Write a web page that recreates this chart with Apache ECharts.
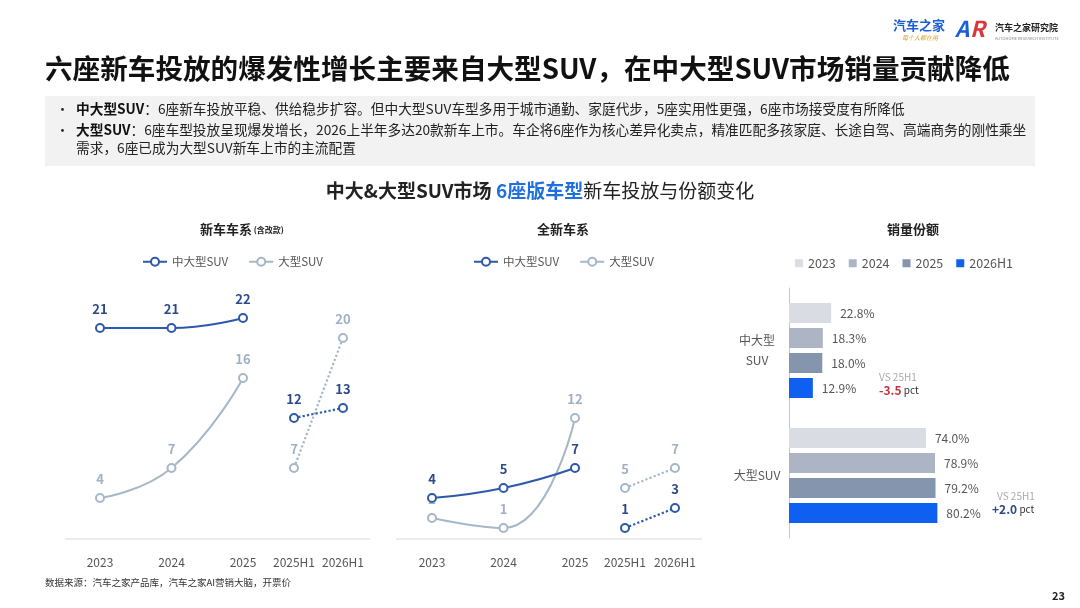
<!DOCTYPE html>
<html>
<head>
<meta charset="utf-8">
<title>六座新车投放</title>
<script src="https://cdn.jsdelivr.net/npm/echarts@6/dist/echarts.min.js"></script>
<style>
html,body{margin:0;padding:0;background:#fff;}
#main{width:1080px;height:608px;}
</style>
</head>
<body>
<div id="main"></div>
<script>
// 数据
var years = ['2023', '2024', '2025'];
var halves = ['2025H1', '2026H1'];

// 新车车系（含改款）
var newMid = [21, 21, 22];
var newLarge = [4, 7, 16];
var newMidH1 = [12, 13];
var newLargeH1 = [7, 20];

// 全新车系
var allMid = [4, 5, 7];
var allLarge = [2, 1, 12];
var allMidH1 = [1, 3];
var allLargeH1 = [5, 7];

// 销量份额
var shareCats = ['中大型\nSUV', '大型SUV'];
var shareNames = ['2023', '2024', '2025', '2026H1'];
var share2023 = [22.8, 74.0];
var share2024 = [18.3, 78.9];
var share2025 = [18.0, 79.2];
var share2026H1 = [12.9, 80.2];
var shareColors = ['#d9dce3', '#adb4c4', '#8595ad', '#0f5ff0'];

var FONT = '"Noto Sans CJK SC", "Noto Sans", sans-serif';
var MID = '#2d5aa8', MID_LBL = '#2b4a8c';
var LRG = '#a6b7c8', LRG_LBL = '#9fb1c4';

function lineSeries(name, data, idx, color, lblColor, dotted) {
	return {
		name: name,
		type: 'line',
		xAxisIndex: idx,
		yAxisIndex: idx,
		data: data,
		smooth: dotted ? false : 0.5,
		symbol: 'emptyCircle',
		symbolSize: 8,
		lineStyle: {color: color, width: dotted ? 2.2 : 2, type: dotted ? 'dotted' : 'solid'},
		itemStyle: {color: color, borderWidth: 2},
		label: {show: true, position: 'top', distance: 7, color: lblColor, fontWeight: 'bold', fontSize: 13},
		z: name == '中大型SUV' ? 3 : 2
	};
}

function catAxis(idx, cats) {
	return {
		type: 'category', gridIndex: idx, data: cats, boundaryGap: false,
		axisLine: {show: false}, axisTick: {show: false},
		axisLabel: {color: '#555', fontSize: 12, margin: 18, interval: 0, hideOverlap: false}
	};
}
function valAxis(idx) {
	return {type: 'value', gridIndex: idx, min: 0, max: 25, show: false, splitLine: {show: false}};
}

function barSeries(i, data) {
	return {
		name: shareNames[i],
		type: 'bar',
		xAxisIndex: 4,
		yAxisIndex: 4,
		data: data,
		barWidth: 20,
		barGap: '25%',
		itemStyle: {color: shareColors[i]},
		label: {
			show: true, position: 'right', distance: 9, color: '#555', fontSize: 12,
			formatter: function (p) { return p.value.toFixed(1) + '%'; }
		}
	};
}

var chart = echarts.init(document.getElementById('main'));

var option = {
	backgroundColor: '#fff',
	textStyle: {fontFamily: FONT},
	animation: false,
	grid: [
		{left: 100, width: 143, top: 288, height: 250},
		{left: 294, width: 49, top: 288, height: 250},
		{left: 432, width: 143, top: 288, height: 250},
		{left: 625, width: 50, top: 288, height: 250},
		{left: 789, width: 185, top: 288, height: 250}
	],
	xAxis: [
		catAxis(0, years), catAxis(1, halves), catAxis(2, years), catAxis(3, halves),
		{type: 'value', gridIndex: 4, min: 0, max: 100, show: false}
	],
	yAxis: [
		valAxis(0), valAxis(1), valAxis(2), valAxis(3),
		{
			type: 'category', gridIndex: 4, data: shareCats, inverse: true,
			axisLine: {show: true, lineStyle: {color: '#c8c8c8'}}, axisTick: {show: false},
			axisLabel: {color: '#555', fontSize: 12, margin: 32, align: 'center', lineHeight: 20}
		}
	],
	legend: [
		{
			data: ['中大型SUV', '大型SUV'], left: 137, top: 251, itemGap: 20,
			itemWidth: 24, itemHeight: 10, textStyle: {color: '#555', fontSize: 11.5}
		},
		{
			data: ['中大型SUV', '大型SUV'], left: 468, top: 251, itemGap: 20,
			itemWidth: 24, itemHeight: 10, textStyle: {color: '#555', fontSize: 11.5}
		},
		{
			data: shareNames, left: 790, top: 252, itemGap: 13, icon: 'rect',
			itemWidth: 8, itemHeight: 8, textStyle: {color: '#555', fontSize: 12.5}
		}
	],
	series: [
		lineSeries('中大型SUV', newMid, 0, MID, MID_LBL, false),
		lineSeries('大型SUV', newLarge, 0, LRG, LRG_LBL, false),
		lineSeries('中大型SUV', newMidH1, 1, MID, MID_LBL, true),
		lineSeries('大型SUV', newLargeH1, 1, LRG, LRG_LBL, true),
		lineSeries('中大型SUV', allMid, 2, MID, MID_LBL, false),
		lineSeries('大型SUV', allLarge, 2, LRG, LRG_LBL, false),
		lineSeries('中大型SUV', allMidH1, 3, MID, MID_LBL, true),
		lineSeries('大型SUV', allLargeH1, 3, LRG, LRG_LBL, true),
		barSeries(0, share2023),
		barSeries(1, share2024),
		barSeries(2, share2025),
		barSeries(3, share2026H1)
	],
	graphic: [
		// 标题
		{type: 'text', left: 45, top: 55, style: {text: '六座新车投放的爆发性增长主要来自大型SUV，在中大型SUV市场销量贡献降低', font: 'bold 27.6px ' + FONT, fill: '#111'}},
		// logo
		{type: 'text', left: 893, top: 19, style: {text: '汽车之家', font: 'bold 13px ' + FONT, fill: '#1b5fd8'}},
		{type: 'text', left: 902, top: 35, style: {text: '每个人都在用', font: 'italic 6px ' + FONT, fill: '#d9a531'}},
		{type: 'text', left: 955, top: 18, style: {text: 'A', font: 'italic bold 22px ' + FONT, fill: '#1b5fd8'}},
		{type: 'text', left: 970, top: 18, style: {text: 'R', font: 'italic bold 22px ' + FONT, fill: '#d9363e'}},
		{type: 'text', left: 995, top: 23, style: {text: '汽车之家研究院', font: 'bold 9px ' + FONT, fill: '#222'}},
		{type: 'text', left: 995, top: 36, style: {text: 'AUTOHOME RESEARCH INSTITUTE', font: '4px ' + FONT, fill: '#888'}},
		// 灰色说明框
		{type: 'rect', shape: {x: 45, y: 96, width: 990, height: 70}, style: {fill: '#f2f2f2'}},
		{type: 'text', left: 56, top: 103, style: {text: '•', font: '13px ' + FONT, fill: '#222'}},
		{type: 'text', left: 56, top: 124, style: {text: '•', font: '13px ' + FONT, fill: '#222'}},
		{
			type: 'text', left: 76, top: 102,
			style: {
				text: '{b|中大型SUV}：6座新车投放平稳、供给稳步扩容。但中大型SUV车型多用于城市通勤、家庭代步，5座实用性更强，6座市场接受度有所降低',
				font: '13.7px ' + FONT, fill: '#222',
				rich: {b: {fontWeight: 'bold', fontSize: 13.7, fontFamily: FONT, fill: '#111'}}
			}
		},
		{
			type: 'text', left: 76, top: 123,
			style: {
				text: '{b|大型SUV}：6座车型投放呈现爆发增长，2026上半年多达20款新车上市。车企将6座作为核心差异化卖点，精准匹配多孩家庭、长途自驾、高端商务的刚性乘坐',
				font: '13.7px ' + FONT, fill: '#222',
				rich: {b: {fontWeight: 'bold', fontSize: 13.7, fontFamily: FONT, fill: '#111'}}
			}
		},
		{type: 'text', left: 76, top: 141, style: {text: '需求，6座已成为大型SUV新车上市的主流配置', font: '13.7px ' + FONT, fill: '#222'}},
		// 副标题
		{
			type: 'text', left: 'center', top: 181,
			style: {
				text: '{a|中大&大型SUV市场 }{b|6座版车型}{c|新车投放与份额变化}',
				rich: {
					a: {fontWeight: 'bold', fontSize: 19, fontFamily: FONT, fill: '#222'},
					b: {fontWeight: 'bold', fontSize: 19, fontFamily: FONT, fill: '#1f6fe0'},
					c: {fontSize: 19, fontFamily: FONT, fill: '#222'}
				}
			}
		},
		// 小标题
		{
			type: 'text', left: 200, top: 223,
			style: {
				text: '{a|新车车系}{b| (含改款)}',
				rich: {
					a: {fontWeight: 'bold', fontSize: 13, fontFamily: FONT, fill: '#222'},
					b: {fontWeight: 'bold', fontSize: 8, fontFamily: FONT, fill: '#222'}
				}
			}
		},
		{type: 'text', left: 537, top: 223, style: {text: '全新车系', font: 'bold 13px ' + FONT, fill: '#222'}},
		{type: 'text', left: 887, top: 223, style: {text: '销量份额', font: 'bold 13px ' + FONT, fill: '#222'}},
		// 横轴线
		{type: 'line', shape: {x1: 65, y1: 539, x2: 370, y2: 539}, style: {stroke: '#d9d9d9', lineWidth: 1}},
		{type: 'line', shape: {x1: 396, y1: 539, x2: 702, y2: 539}, style: {stroke: '#d9d9d9', lineWidth: 1}},
		// 变化注释
		{type: 'text', left: 879, top: 372, style: {text: 'VS 25H1', font: '10px ' + FONT, fill: '#aaa'}},
		{
			type: 'text', left: 879, top: 384,
			style: {
				text: '{r|-3.5}{p| pct}',
				rich: {
					r: {fontWeight: 'bold', fontSize: 12, fontFamily: FONT, fill: '#c0343a'},
					p: {fontSize: 10, fontFamily: FONT, fill: '#333'}
				}
			}
		},
		{type: 'text', left: 997, top: 491, style: {text: 'VS 25H1', font: '10px ' + FONT, fill: '#aaa'}},
		{
			type: 'text', left: 992, top: 503,
			style: {
				text: '{r|+2.0}{p| pct}',
				rich: {
					r: {fontWeight: 'bold', fontSize: 12, fontFamily: FONT, fill: '#2b4a8c'},
					p: {fontSize: 10, fontFamily: FONT, fill: '#333'}
				}
			}
		},
		// 数据来源 & 页码
		{type: 'text', left: 45, top: 578, style: {text: '数据来源：汽车之家产品库，汽车之家AI营销大脑，开票价', font: '9.5px ' + FONT, fill: '#333'}},
		{type: 'text', left: 1052, top: 590, style: {text: '23', font: 'bold 11px ' + FONT, fill: '#222'}}
	]
};

chart.setOption(option);
</script>
</body>
</html>
